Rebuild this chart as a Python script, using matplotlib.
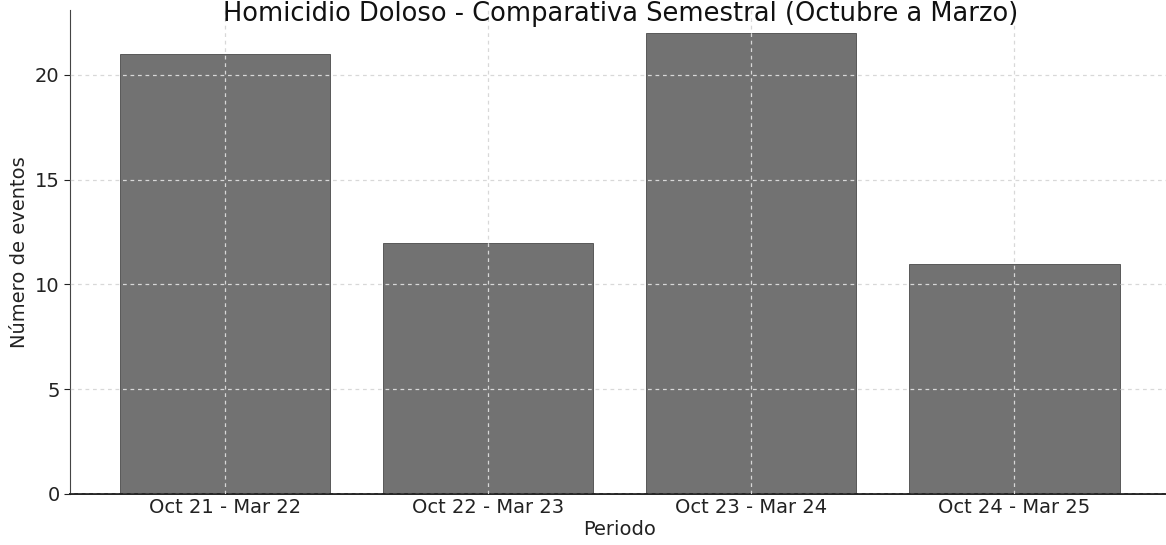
import numpy as np
from matplotlib import pyplot as plt

periodos = ['Oct 21 - Mar 22', 'Oct 22 - Mar 23', 'Oct 23 - Mar 24', 'Oct 24 - Mar 25']
eventos = [21, 12, 22, 11]

fig = plt.figure(figsize=(11.66, 5.45), dpi=100)
ax = fig.add_axes([0.060, 0.0936, 0.943, 0.888])

ax.bar(periodos, eventos, width=0.8, color='#727272', edgecolor='#4a4a4a', linewidth=0.6)

ax.grid(True, color='#d8d8d8', linestyle=(0, (3, 3)), linewidth=0.9)
ax.set_axisbelow(False)

ax.spines['top'].set_visible(False)
ax.spines['right'].set_visible(False)
ax.spines['left'].set_color('#444444')
ax.spines['bottom'].set_color('#222222')
ax.spines['bottom'].set_linewidth(1.4)

ax.set_yticks([0, 5, 10, 15, 20])
ax.tick_params(axis='both', labelsize=14, colors='#222222', length=4)
ax.tick_params(axis='x', length=0, pad=3)

ax.set_xlabel('Periodo', fontsize=14, color='#222222', labelpad=2)
ax.set_ylabel('Número de eventos', fontsize=14, color='#222222', labelpad=4)

# titulo pegado al borde superior, como en la imagen escaneada
fig.text(0.532, 0.998, 'Homicidio Doloso - Comparativa Semestral (Octubre a Marzo)',
         fontsize=18.5, color='#111111', ha='center', va='top')

plt.savefig('out.png', dpi=100)
